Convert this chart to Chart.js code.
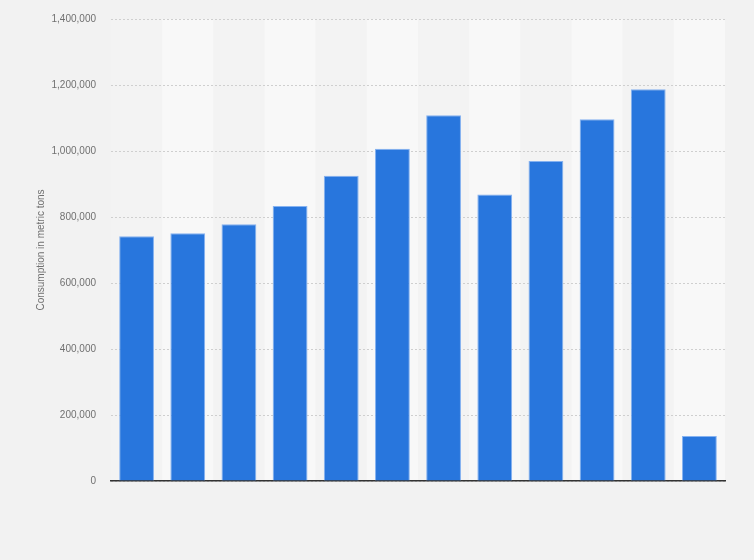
<!DOCTYPE html>
<html>
<head>
<meta charset="utf-8">
<script src="https://cdn.jsdelivr.net/npm/chart.js@4.4.1/dist/chart.umd.min.js"></script>
<style>
  html, body { margin: 0; padding: 0; background: #f2f2f2; }
  #wrap { width: 754px; height: 560px; position: relative; }
</style>
</head>
<body>
<div id="wrap"><canvas id="c" width="754" height="560"></canvas></div>
<script>
const categories = ["1", "2", "3", "4", "5", "6", "7", "8", "9", "10", "11", "12"];
const consumption = [742000, 751000, 778000, 833000, 925000, 1007000, 1108000, 868000, 970000, 1096000, 1187000, 136000];
const yTicks = [0, 200000, 400000, 600000, 800000, 1000000, 1200000, 1400000];
const yTitle = "Consumption in metric tons";

const bandPlugin = {
  id: 'bands',
  beforeDraw(chart) {
    const { ctx, chartArea, scales } = chart;
    const xs = scales.x;
    const n = categories.length;
    const w = (chartArea.right - chartArea.left) / n;
    ctx.save();
    ctx.fillStyle = '#f2f2f2';
    ctx.fillRect(0, 0, chart.width, chart.height);
    for (let i = 0; i < n; i++) {
      const cx = xs.getPixelForValue(i);
      ctx.fillStyle = i % 2 === 1 ? '#f8f8f8' : '#f3f3f3';
      ctx.fillRect(cx - w / 2, chartArea.top, w, chartArea.bottom - chartArea.top);
    }
    ctx.restore();
  }
};

new Chart(document.getElementById('c'), {
  type: 'bar',
  data: {
    labels: categories,
    datasets: [{
      data: consumption,
      backgroundColor: '#2876dd',
      borderColor: 'rgba(120,170,240,0.9)',
      borderWidth: 1,
      barPercentage: 0.68,
      categoryPercentage: 1.0
    }]
  },
  options: {
    responsive: false,
    animation: false,
    devicePixelRatio: 1,
    layout: { padding: { left: 35, right: 29, top: 19, bottom: 79 } },
    plugins: { legend: { display: false }, tooltip: { enabled: false } },
    scales: {
      x: {
        grid: { display: false },
        ticks: { display: false },
        border: { display: true, color: '#333333', width: 1.5 },
        afterFit(s) { s.height = 0; }
      },
      y: {
        min: 0,
        max: 1400000,
        afterBuildTicks(s) { s.ticks = yTicks.map(v => ({ value: v })); },
        afterFit(s) { s.width = 76; s.paddingTop = 0; s.paddingBottom = 0; },
        ticks: {
          color: '#707070',
          font: { family: 'Liberation Sans, Arial, sans-serif', size: 10 },
          padding: 15,
          callback: v => v.toLocaleString('en-US')
        },
        grid: { color: '#cfcfcf', lineWidth: 1, drawTicks: false },
        border: { display: false, dash: [2, 2] },
        title: {
          display: true,
          text: yTitle,
          color: '#707070',
          font: { family: 'Liberation Sans, Arial, sans-serif', size: 10 },
          padding: { top: 0, bottom: 0 }
        }
      }
    }
  },
  plugins: [bandPlugin]
});
</script>
</body>
</html>
